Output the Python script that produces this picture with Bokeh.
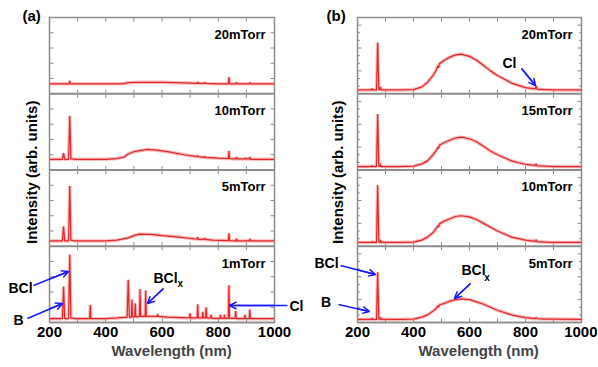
import numpy as np
from bokeh.plotting import figure
from bokeh.models import (Range1d, FixedTicker, Label, Arrow, OpenHead, Span,
                          ColumnDataSource, Title)
from bokeh.core.properties import value
from bokeh.layouts import row
from bokeh.embed import file_html
from bokeh.resources import INLINE

# ---------------- data (normalised intensity inside each sub-panel, 0..1) -------------
x_ticks = [200, 400, 600, 800, 1000]
x_minor = [300, 500, 700, 900]

# Panel (a)
a_labels = ["1mTorr", "5mTorr", "10mTorr", "20mTorr"]

a1_wl = [200, 230, 246, 250, 254, 268, 272, 276, 290, 320, 343, 345, 347, 400, 440, 476, 480, 484,
         491, 493, 495, 503, 505, 507, 520, 522, 524, 540, 542, 544, 560, 583, 585, 587, 620, 698,
         700, 702, 725, 727, 729, 743, 745, 747, 755, 757, 759, 773, 775, 777, 806, 808, 810, 820,
         822, 824, 836, 838, 840, 860, 862, 864, 893, 895, 897, 910, 912, 914, 950, 1000]
a1_y = [0.05, 0.05, 0.05, 0.47, 0.05, 0.05, 0.89, 0.06, 0.05, 0.05, 0.05, 0.23, 0.05, 0.05, 0.06,
        0.07, 0.56, 0.07, 0.07, 0.30, 0.075, 0.075, 0.25, 0.075, 0.08, 0.44, 0.08, 0.08, 0.42, 0.08,
        0.08, 0.08, 0.11, 0.08, 0.07, 0.06, 0.12, 0.06, 0.06, 0.24, 0.06, 0.06, 0.14, 0.06, 0.06,
        0.20, 0.06, 0.06, 0.10, 0.055, 0.055, 0.10, 0.055, 0.055, 0.10, 0.055, 0.055, 0.49, 0.055,
        0.055, 0.15, 0.05, 0.05, 0.10, 0.05, 0.05, 0.17, 0.05, 0.05, 0.05]

a5_wl = [200, 246, 250, 254, 268, 272, 276, 290, 400, 440, 480, 500, 520, 560, 600, 660, 720, 725,
         727, 729, 750, 752, 754, 780, 836, 838, 840, 863, 865, 867, 911, 913, 915, 1000]
a5_y = [0.07, 0.07, 0.26, 0.07, 0.07, 0.79, 0.08, 0.07, 0.07, 0.08, 0.11, 0.14, 0.16, 0.155, 0.14,
        0.12, 0.095, 0.095, 0.12, 0.09, 0.09, 0.11, 0.09, 0.08, 0.075, 0.17, 0.075, 0.07, 0.10,
        0.07, 0.07, 0.10, 0.07, 0.07]

a10_wl = [200, 246, 250, 254, 268, 272, 276, 290, 400, 440, 465, 480, 500, 548, 580, 620, 680, 725,
          727, 729, 750, 752, 754, 800, 836, 838, 840, 863, 865, 867, 895, 897, 899, 911, 913, 915,
          1000]
a10_y = [0.14, 0.14, 0.22, 0.14, 0.14, 0.71, 0.15, 0.14, 0.14, 0.15, 0.17, 0.21, 0.24, 0.27, 0.26,
         0.24, 0.20, 0.175, 0.19, 0.175, 0.165, 0.18, 0.165, 0.155, 0.15, 0.25, 0.15, 0.145, 0.17,
         0.145, 0.145, 0.16, 0.145, 0.145, 0.17, 0.14, 0.14]

a20_wl = [200, 270, 272, 274, 400, 460, 480, 520, 600, 650, 700, 725, 727, 729, 750, 752, 754, 800,
          836, 838, 840, 863, 865, 867, 911, 913, 915, 1000]
a20_y = [0.13, 0.13, 0.17, 0.13, 0.13, 0.13, 0.145, 0.15, 0.15, 0.145, 0.14, 0.135, 0.155, 0.135,
         0.135, 0.15, 0.135, 0.13, 0.13, 0.22, 0.13, 0.13, 0.15, 0.13, 0.13, 0.15, 0.13, 0.13]

# Panel (b)
b_labels = ["5mTorr", "10mTorr", "15mTorr", "20mTorr"]

b_wl = [200, 250, 252, 254, 268, 272, 276, 280, 282, 284, 350, 400, 430, 450, 470, 480, 488, 490,
        492, 510, 530, 550, 570, 600, 625, 650, 675, 700, 725, 750, 775, 800, 835, 838, 841, 870,
        900, 1000]
b20_y = [0.05, 0.05, 0.07, 0.05, 0.05, 0.67, 0.06, 0.05, 0.09, 0.05, 0.05, 0.055, 0.09, 0.15, 0.24,
         0.30, 0.37, 0.34, 0.39, 0.44, 0.48, 0.51, 0.52, 0.49, 0.44, 0.37, 0.30, 0.24, 0.19, 0.14,
         0.11, 0.08, 0.065, 0.105, 0.06, 0.055, 0.05, 0.05]
b15_y = [0.045, 0.045, 0.06, 0.045, 0.045, 0.735, 0.055, 0.045, 0.08, 0.045, 0.045, 0.05, 0.08,
         0.12, 0.20, 0.25, 0.30, 0.28, 0.325, 0.36, 0.39, 0.42, 0.43, 0.41, 0.37, 0.31, 0.25, 0.20,
         0.16, 0.12, 0.095, 0.075, 0.06, 0.08, 0.055, 0.05, 0.045, 0.045]
b10_y = [0.05, 0.05, 0.065, 0.05, 0.05, 0.80, 0.06, 0.05, 0.085, 0.05, 0.05, 0.055, 0.08, 0.12,
         0.18, 0.23, 0.27, 0.25, 0.29, 0.33, 0.36, 0.39, 0.40, 0.385, 0.35, 0.30, 0.25, 0.20, 0.16,
         0.12, 0.10, 0.08, 0.065, 0.085, 0.06, 0.055, 0.05, 0.05]
b5_y = [0.04, 0.04, 0.06, 0.04, 0.04, 0.66, 0.05, 0.04, 0.07, 0.04, 0.04, 0.045, 0.07, 0.10, 0.15,
        0.18, 0.22, 0.20, 0.23, 0.25, 0.28, 0.30, 0.31, 0.30, 0.27, 0.24, 0.20, 0.16, 0.13, 0.10,
        0.08, 0.065, 0.05, 0.065, 0.05, 0.045, 0.045, 0.04]

# ---------------- styling -------------
FONT = "Liberation Sans"
RED = "#e2262a"
HALO = "#f2a0a0"
BLUE = "#1a1aff"
GRAY = "#8c8c8c"
FH = 305            # frame height (px)
PXU = FH / 4.0      # px per sub-panel unit


def make_panel(spectra, labels, left, fw, right, y_major, y_minor, xlab_offset):
    W = left + fw + right
    p = figure(width=W, height=366, x_range=Range1d(200, 1000), y_range=Range1d(0, 4),
               output_backend="svg", toolbar_location=None,
               min_border_left=left, min_border_right=right,
               min_border_top=17, min_border_bottom=44)
    pxn = fw / 800.0  # px per nm
    p.xgrid.visible = False
    p.ygrid.visible = False
    p.yaxis.visible = False
    p.outline_line_color = GRAY
    p.outline_line_width = 1.5

    ax = p.xaxis[0]
    ax.ticker = FixedTicker(ticks=x_ticks, minor_ticks=x_minor)
    ax.axis_line_color = GRAY
    ax.axis_line_width = 1.5
    ax.major_tick_line_color = GRAY
    ax.minor_tick_line_color = GRAY
    ax.major_tick_in = 4
    ax.major_tick_out = 0
    ax.minor_tick_in = 4
    ax.minor_tick_out = 0
    ax.major_label_text_font = FONT
    ax.major_label_text_font_style = "bold"
    ax.major_label_text_font_size = "15px"
    ax.major_label_text_color = "black"
    ax.major_label_standoff = 4

    # x-label as a side-panel title
    p.add_layout(Title(text="Wavelength (nm)", align="left", offset=xlab_offset,
                       text_font=FONT, text_font_style="bold", text_font_size="15px",
                       standoff=0), "below")

    # separators between stacked sub-panels, and inward ticks on the other edges
    dy = 4 / PXU
    dx = 4 / pxn
    inner = sorted(x_ticks[1:-1] + x_minor)
    tx0, ty0, tx1, ty1 = [], [], [], []
    for k in range(1, 4):
        p.add_layout(Span(location=k, dimension="width", line_color=GRAY, line_width=2))
        for t in inner:
            tx0.append(t); tx1.append(t); ty0.append(k - dy); ty1.append(k + dy)
    for t in inner:
        tx0.append(t); tx1.append(t); ty0.append(4); ty1.append(4 - dy)
    for t in y_major:
        tx0.append(200); tx1.append(200 + dx); ty0.append(t); ty1.append(t)
        tx0.append(1000); tx1.append(1000 - dx); ty0.append(t); ty1.append(t)
    for t in y_minor:
        tx0.append(200); tx1.append(200 + dx * 0.6); ty0.append(t); ty1.append(t)
        tx0.append(1000); tx1.append(1000 - dx * 0.6); ty0.append(t); ty1.append(t)
    p.segment(x0="x0", y0="y0", x1="x1", y1="y1",
              source=ColumnDataSource(dict(x0=tx0, y0=ty0, x1=tx1, y1=ty1)),
              line_color=GRAY, line_width=1)

    for k, ((wl, y), lab) in enumerate(zip(spectra, labels)):
        yy = np.asarray(y) + k
        p.line(wl, yy, line_color=HALO, line_width=3.5, line_alpha=0.7)
        p.line(wl, yy, line_color=RED, line_width=1.2)
        p.add_layout(Label(x=968, y=k + 0.78, text=lab, text_align="right",
                           text_baseline="middle", text_font=FONT,
                           text_font_style="bold", text_font_size="13px",
                           text_color="black"))
    return p


def texts(p, xs, ys, ss, size="14px", align="center", angle=0.0):
    p.text(x=xs, y=ys, text=ss, text_align=align, text_baseline="middle", angle=angle,
           text_font=value(FONT), text_font_style="bold", text_font_size=value(size),
           text_color="black", level="overlay")


def arrows(p, x0, y0, x1, y1):
    p.segment(x0=x0, y0=y0, x1=x1, y1=y1, line_color=BLUE, line_width=1.5, level="overlay")
    for a, b, c, d in zip(x0, y0, x1, y1):
        p.add_layout(Arrow(end=OpenHead(size=7, line_color=BLUE, line_width=1.5),
                           x_start=a, y_start=b, x_end=c, y_end=d,
                           line_color=BLUE, line_width=1.5))


a_major = [k + f for k in range(4) for f in (0.2, 0.4, 0.6, 0.8)]
b_major = [k + f for k in range(4) for f in (0.3, 0.6, 0.9)]
b_minor = [k + f for k in range(4) for f in (0.1, 0.2, 0.4, 0.5, 0.7, 0.8)]

pa = make_panel([(a1_wl, a1_y), (a5_wl, a5_y), (a10_wl, a10_y), (a20_wl, a20_y)],
                a_labels, 49, 225, 31, a_major, [], 62)
pb = make_panel([(b_wl, b5_y), (b_wl, b10_y), (b_wl, b15_y), (b_wl, b20_y)],
                b_labels, 52, 224, 16, b_major, b_minor, 61)

YLAB = "Intensity (arb. units)"

# panel (a) annotations
texts(pa, [136], [1.97], [YLAB], size="15px", angle=np.pi / 2)
texts(pa, [104], [4.026], ["(a)"], size="15px", align="left")
texts(pa, [96.9, 89.8], [0.459, 0.039], ["BCl", "B"])
texts(pa, [569.8, 1053], [0.590, 0.21], ["BCl", "Cl"], align="left")
texts(pa, [655.1], [0.511], ["x"], size="10px", align="left")
arrows(pa, [143.1, 121.8, 605.3, 1046], [0.485, 0.052, 0.446, 0.223],
       [267.6, 246.2, 548.4, 840], [0.669, 0.249, 0.249, 0.223])

# panel (b) annotations
texts(pb, [128.6], [1.97], [YLAB], size="15px", angle=np.pi / 2)
texts(pb, [89.3], [4.026], ["(b)"], size="15px", align="left")
texts(pb, [89.3, 87.5, 742.9], [0.774, 0.275, 3.397], ["BCl", "B", "Cl"])
texts(pb, [571.4], [0.682], ["BCl"], align="left")
texts(pb, [653], [0.59], ["x"], size="10px", align="left")
arrows(pb, [139.3, 132.1, 603.6, 785.7], [0.748, 0.236, 0.511, 3.331],
       [264.3, 242.9, 546.4, 835.7], [0.630, 0.144, 0.315, 3.108])

layout = row(pa, pb)
open("out.html", "w").write(file_html(layout, INLINE))
